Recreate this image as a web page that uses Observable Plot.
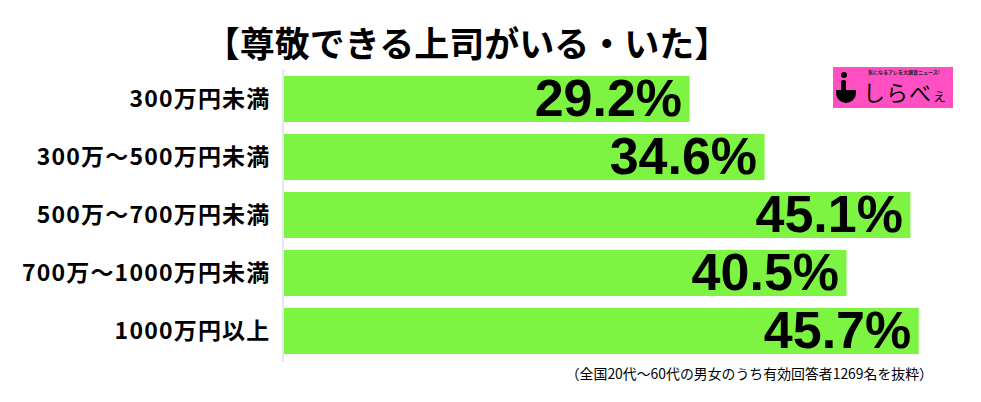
<!DOCTYPE html>
<html>
<head>
<meta charset="utf-8">
<script src="https://cdn.jsdelivr.net/npm/d3@7"></script>
<script src="https://cdn.jsdelivr.net/npm/@observablehq/plot@0.6"></script>
<style>
  html, body { margin: 0; padding: 0; background: #fff; }
  #wrap { position: relative; width: 981px; height: 402px; overflow: hidden; font-family: "Noto Sans CJK JP", "Noto Sans", sans-serif; }
  #title { height: 66px; box-sizing: border-box; padding-top: 21px; padding-right: 47px; line-height: 42px; text-align: center; font-size: 35px; font-weight: bold; color: #000; }
  #caption { height: 36px; text-align: right; padding-right: 48px; font-size: 13.9px; line-height: 14px; color: #000; }
  #chart svg { display: block; }
  g[aria-label="y-axis tick label"] text { letter-spacing: 1.2px; }
  #logo { position: absolute; left: 833px; top: 67px; width: 120px; height: 41px; background: #ff4fc3; }
  #logo .tag { position: absolute; left: 35px; top: 2px; font-size: 5px; line-height: 6px; font-weight: bold; color: #222; white-space: nowrap; }
  #logo .name { position: absolute; left: 30px; top: 11px; font-size: 22px; line-height: 26px; color: #000; letter-spacing: 1px; white-space: nowrap; }
  #logo .name small { font-size: 15px; }
  #logo .dot { position: absolute; left: 8px; top: 5px; width: 6px; height: 6px; border-radius: 50%; background: #000; }
  #logo .stem { position: absolute; left: 8px; top: 13px; width: 5px; height: 14px; background: #000; border-radius: 2px; }
  #logo .body { position: absolute; left: 3px; top: 23px; width: 20px; height: 13px; background: #000; border-radius: 0 0 10px 10px; }
</style>
</head>
<body>
<div id="wrap">
  <div id="title">【尊敬できる上司がいる・いた】</div>
  <div id="chart"></div>
  <div id="caption">（全国20代～60代の男女のうち有効回答者1269名を抜粋）</div>
  <div id="logo">
    <div class="tag">気になるアレを大調査ニュース!</div>
    <div class="dot"></div><div class="stem"></div><div class="body"></div>
    <div class="name">しらべ<small>ぇ</small></div>
  </div>
</div>
<script>
const categories = ["300万円未満", "300万～500万円未満", "500万～700万円未満", "700万～1000万円未満", "1000万円以上"];
const values = [29.2, 34.6, 45.1, 40.5, 45.7];
const valueSuffix = "%";

const data = categories.map((c, i) => ({category: c, value: values[i]}));

const chart = Plot.plot({
  width: 981,
  height: 300,
  marginTop: 3,
  marginBottom: 4,
  marginLeft: 284,
  marginRight: 2.5,
  style: {fontFamily: "'Noto Sans CJK JP', sans-serif", background: "white", color: "black"},
  x: {domain: [0, 50], axis: null},
  y: {domain: categories, paddingInner: 0.205, paddingOuter: 0.107, label: null, axis: null},
  marks: [
    Plot.barX(data, {x: "value", y: "category", fill: "#7df442"}),
    Plot.ruleX([0], {dx: -1.5, stroke: "#dcdce6", strokeWidth: 1.5}),
    Plot.text(data, {
      x: "value", y: "category",
      text: d => d.value.toFixed(1) + valueSuffix,
      textAnchor: "end", dx: -8, dy: 0,
      fontFamily: "'Liberation Sans', Arial, sans-serif",
      fontSize: 52, fontWeight: "bold", fill: "black"
    }),
    Plot.axisY({tickSize: 0, tickPadding: 14, fontSize: 23, fontWeight: "bold", label: null})
  ]
});
document.getElementById("chart").appendChild(chart);
</script>
</body>
</html>
